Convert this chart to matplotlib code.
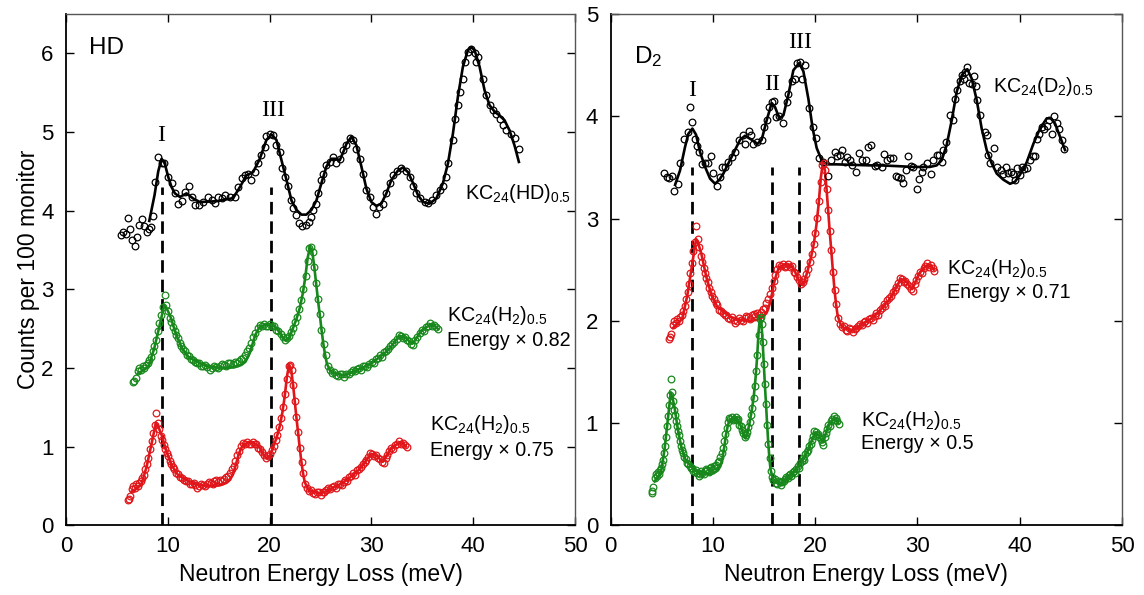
import matplotlib
matplotlib.use("Agg")
import matplotlib.pyplot as plt
import numpy as np

plt.rcParams['font.family'] = ['Liberation Sans', 'DejaVu Sans']
plt.rcParams['mathtext.fontset'] = 'custom'
plt.rcParams['mathtext.rm'] = 'Liberation Sans'
plt.rcParams['mathtext.it'] = 'Liberation Sans'

# KC24(HD)0.5 - fit line and data points
hd_fit_e = [8.18, 8.7, 9.06, 9.39, 9.7, 10.04, 10.37, 10.7, 11.19, 11.84, 12.49, 13.15, 14.78, 16.42,
            17.08, 17.73, 18.38, 19.04, 19.69, 20.18, 20.67, 21.17, 21.66, 22.15, 22.64, 23.13, 23.62,
            24.11, 24.6, 25.09, 25.58, 26.07, 26.56, 26.89, 27.38, 27.55, 28.04, 28.53, 29.02, 29.51,
            30.0, 30.49, 30.98, 31.47, 31.96, 32.61, 33.1, 33.59, 34.1, 34.57, 35.07, 35.72, 36.38,
            37.03, 37.52, 38.01, 38.5, 38.99, 39.48, 39.81, 40.14, 40.63, 41.12, 41.61, 42.1, 42.59,
            43.08, 43.57, 44.06, 44.49]
hd_fit_c = [3.87, 4.2, 4.5, 4.66, 4.6, 4.43, 4.3, 4.22, 4.175, 4.22, 4.155, 4.11, 4.12, 4.16,
            4.3, 4.45, 4.49, 4.66, 4.9, 4.97, 4.9, 4.64, 4.39, 4.13, 4.01, 3.95, 3.95,
            4.01, 4.13, 4.35, 4.56, 4.66, 4.66, 4.64, 4.79, 4.85, 4.94, 4.83, 4.56, 4.28,
            4.11, 4.06, 4.09, 4.22, 4.39, 4.51, 4.55, 4.49, 4.35, 4.2, 4.11, 4.09, 4.155,
            4.35, 4.6, 4.98, 5.45, 5.83, 6.04, 6.08, 6.04, 5.83, 5.53, 5.34, 5.26, 5.21,
            5.15, 5.02, 4.83, 4.62]
hd_pts_e = [5.37, 5.63, 5.89, 6.08, 6.28, 6.51, 6.77, 6.94, 7.2, 7.43, 7.69, 7.92, 8.15, 8.34, 8.57,
            8.73, 9.06, 9.39, 9.62, 10.04, 10.37, 10.7, 11.02, 11.35, 11.68, 12.1, 12.33, 12.66,
            13.08, 13.41, 13.97, 14.3, 14.6, 14.95, 15.28, 15.6, 16.09, 16.58, 16.91, 17.24, 17.57,
            17.89, 18.22, 18.55, 18.87, 19.2, 19.53, 19.69, 20.02, 20.35, 20.67, 21.0, 21.26, 21.49,
            21.82, 22.15, 22.31, 22.64, 22.9, 23.23, 23.55, 23.88, 24.1, 24.27, 24.53, 24.76, 25.09,
            25.25, 25.58, 25.9, 26.23, 26.56, 26.9, 27.21, 27.55, 27.87, 28.2, 28.53, 28.85, 29.18,
            29.51, 29.83, 30.16, 30.49, 30.75, 31.14, 31.47, 31.8, 32.12, 32.52, 32.94, 33.37, 33.76,
            34.1, 34.41, 34.74, 35.23, 35.56, 35.98, 36.38, 36.7, 37.03, 37.36, 37.52, 38.01, 38.17,
            38.5, 38.67, 38.99, 39.16, 39.48, 39.81, 40.14, 40.24, 40.46, 40.95, 41.28, 41.67, 41.93,
            42.25, 42.59, 42.92, 43.25, 43.74, 44.06, 44.49]
hd_pts_c = [3.69, 3.73, 3.71, 3.91, 3.77, 3.625, 3.55, 3.67, 3.815, 3.9, 3.8, 3.73, 3.77, 3.79, 3.93,
            4.37, 4.68, 4.6, 4.6, 4.43, 4.35, 4.22, 4.09, 4.125, 4.24, 4.31, 4.175, 4.07,
            4.07, 4.11, 4.175, 4.13, 4.1, 4.175, 4.16, 4.2, 4.175, 4.175, 4.3, 4.41, 4.45,
            4.47, 4.39, 4.49, 4.6, 4.705, 4.81, 4.95, 4.97, 4.96, 4.83, 4.75, 4.54, 4.43,
            4.32, 4.13, 4.03, 3.94, 3.84, 3.8, 3.815, 3.86, 3.92, 4.01, 4.09, 4.22, 4.39,
            4.47, 4.58, 4.62, 4.68, 4.6, 4.66, 4.77, 4.83, 4.92, 4.9, 4.79, 4.66, 4.47,
            4.26, 4.175, 4.05, 3.96, 4.05, 4.09, 4.22, 4.35, 4.45, 4.51, 4.54, 4.51, 4.43,
            4.32, 4.22, 4.155, 4.11, 4.1, 4.13, 4.2, 4.26, 4.32, 4.43, 4.6, 4.9, 5.17,
            5.34, 5.51, 5.68, 5.89, 6.02, 6.06, 6.0, 5.89, 5.96, 5.68, 5.47, 5.34, 5.28,
            5.235, 5.17, 5.09, 5.02, 4.98, 4.92, 4.78]

# KC24(D2)0.5 - fit line and data points
d2_fit_e = [6.31, 6.79, 7.28, 7.61, 8.0, 8.36, 8.75, 9.24, 9.73, 10.22, 10.64, 11.03, 11.52, 12.17,
            12.66, 13.15, 13.8, 14.36, 14.77, 15.26, 15.75, 16.08, 16.5, 16.9, 17.38, 17.87, 18.43,
            18.85, 19.34, 19.76, 20.15, 20.64, 21.13, 22.1, 23.73, 25.36, 26.34, 27.97, 29.6, 31.23,
            31.88, 32.37, 32.86, 33.35, 33.84, 34.33, 34.88, 35.3, 35.79, 36.28, 36.77, 37.26, 37.75,
            38.4, 39.05, 39.54, 40.03, 40.68, 41.33, 41.98, 42.64, 43.03, 43.45, 43.94, 44.43]
d2_fit_c = [3.33, 3.47, 3.7, 3.83, 3.88, 3.82, 3.65, 3.505, 3.39, 3.34, 3.38, 3.44, 3.54, 3.67,
            3.77, 3.81, 3.77, 3.73, 3.77, 3.96, 4.13, 4.09, 3.98, 4.01, 4.21, 4.45, 4.52,
            4.44, 4.17, 3.88, 3.69, 3.57, 3.53, 3.53, 3.525, 3.52, 3.52, 3.513, 3.505, 3.505,
            3.52, 3.57, 3.72, 3.96, 4.24, 4.4, 4.46, 4.37, 4.16, 3.88, 3.67, 3.54, 3.44,
            3.38, 3.34, 3.36, 3.43, 3.55, 3.73, 3.88, 3.98, 3.98, 3.93, 3.8, 3.67]
d2_pts_e = [5.26, 5.49, 5.75, 5.98, 6.21, 6.63, 6.79, 7.22, 7.54, 7.77, 8.0, 8.26, 8.49, 8.68, 8.91,
            9.24, 9.5, 9.79, 10.05, 10.44, 10.7, 10.86, 11.19, 11.52, 11.91, 12.17, 12.59, 12.92,
            13.18, 13.57, 13.73, 13.96, 14.29, 14.77, 15.0, 15.33, 15.52, 15.75, 15.98, 16.18, 16.5,
            16.83, 17.22, 17.38, 17.71, 18.04, 18.2, 18.52, 18.69, 19.01, 19.4, 19.76, 20.09, 20.41,
            20.8, 21.29, 21.55, 21.94, 22.17, 22.43, 22.66, 22.92, 23.15, 23.41, 23.57, 24.0, 24.32,
            24.55, 24.98, 25.2, 25.43, 25.86, 26.08, 26.5, 26.73, 27.06, 27.32, 27.65, 27.91, 28.14,
            28.37, 28.63, 28.89, 29.12, 29.34, 29.6, 29.95, 30.2, 30.42, 30.58, 30.97, 31.3, 31.56,
            31.88, 32.15, 32.37, 32.54, 32.8, 33.2, 33.45, 33.68, 33.9, 34.16, 34.33, 34.55, 34.65,
            34.88, 35.07, 35.3, 35.53, 35.73, 35.86, 36.12, 36.61, 36.84, 36.93, 37.1, 37.49, 37.82,
            38.14, 38.34, 38.67, 38.89, 39.12, 39.31, 39.54, 39.77, 40.03, 40.2, 40.42, 40.68, 41.01,
            41.27, 41.5, 41.66, 41.92, 42.15, 42.41, 42.64, 42.9, 43.13, 43.36, 43.62, 43.88, 44.11,
            44.33]
d2_pts_c = [3.45, 3.41, 3.4, 3.42, 3.27, 3.34, 3.54, 3.78, 3.85, 4.09, 3.94, 3.78, 3.71, 3.65, 3.53,
            3.54, 3.54, 3.61, 3.45, 3.32, 3.41, 3.505, 3.505, 3.555, 3.6, 3.65, 3.77, 3.82,
            3.73, 3.86, 3.82, 3.73, 3.75, 3.77, 3.9, 3.96, 4.09, 4.14, 4.15, 3.99, 4.0,
            3.93, 4.14, 4.22, 4.35, 4.36, 4.52, 4.53, 4.36, 4.5, 4.08, 3.9, 3.79, 3.59,
            3.555, 3.42, 3.57, 3.65, 3.61, 3.62, 3.67, 3.555, 3.6, 3.57, 3.52, 3.46, 3.64,
            3.57, 3.57, 3.7, 3.72, 3.51, 3.52, 3.505, 3.63, 3.57, 3.59, 3.59, 3.42, 3.41,
            3.4, 3.35, 3.47, 3.61, 3.51, 3.505, 3.29, 3.39, 3.46, 3.505, 3.54, 3.44, 3.57,
            3.62, 3.62, 3.555, 3.67, 3.75, 4.01, 3.96, 4.17, 4.26, 4.35, 4.4, 4.36, 4.43,
            4.48, 4.33, 4.32, 4.39, 4.3, 4.16, 4.01, 3.85, 3.82, 3.62, 3.54, 3.69, 3.505,
            3.47, 3.44, 3.505, 3.45, 3.46, 3.44, 3.38, 3.49, 3.43, 3.505, 3.48, 3.49, 3.57,
            3.61, 3.61, 3.78, 3.83, 3.9, 3.88, 3.91, 3.96, 3.83, 4.0, 3.93, 3.88, 3.77,
            3.68]

# KC24(H2)0.5 - measured energy (before scaling), lower copy
h2_fit_e = [8.6, 9.25, 9.9, 10.56, 11.21, 11.77, 12.1, 12.52, 13.17, 13.83, 14.67, 15.79, 16.7, 17.53,
            18.4, 19.28, 20.2, 21.03, 21.5, 21.89, 22.25, 22.55, 22.9, 23.2, 23.6, 24.08, 24.5, 24.95,
            25.4, 25.83, 26.1, 26.39, 26.7, 27.13, 27.6, 28.0, 28.35, 28.65, 28.95, 29.23, 29.5, 29.75,
            29.96, 30.2, 30.4, 30.62, 30.84, 31.05, 31.27, 31.7, 32.15, 33.24, 34.0, 34.53, 35.2, 35.87,
            36.7, 37.6, 38.3, 38.93, 39.5, 40.0, 40.5, 40.87, 41.2, 41.52, 42.0, 42.4, 43.0, 43.73,
            44.2, 44.53]
h2_fit_c = [0.43, 0.47, 0.53, 0.745, 1.04, 1.3, 1.25, 1.15, 0.935, 0.766, 0.64, 0.575, 0.53, 0.51,
            0.505, 0.5, 0.51, 0.54, 0.58, 0.66, 0.77, 0.88, 0.97, 1.02, 1.04, 1.05, 1.05, 1.03,
            0.98, 0.91, 0.87, 0.85, 0.88, 0.99, 1.12, 1.26, 1.44, 1.64, 1.9, 2.04, 1.98, 1.78,
            1.58, 1.35, 1.18, 0.98, 0.8, 0.66, 0.55, 0.46, 0.43, 0.41, 0.43, 0.46, 0.49, 0.52,
            0.57, 0.64, 0.7, 0.77, 0.85, 0.91, 0.89, 0.87, 0.83, 0.81, 0.88, 0.95, 1.01, 1.05,
            1.03, 1.0]
h2_pts_e = [8.07, 8.2, 8.33, 8.6, 8.8, 9.0, 9.2, 9.4, 9.6, 9.8, 10.0, 10.2, 10.4, 10.6, 10.8, 11.0,
            11.2, 11.4, 11.6, 11.8, 12.0, 12.2, 12.4, 12.6, 12.8, 13.0, 13.2, 13.4, 13.6, 13.8, 14.0,
            14.2, 14.45, 14.7, 14.95, 15.2, 15.45, 15.7, 15.95, 16.2, 16.45, 16.7, 16.95, 17.2, 17.45,
            17.7, 17.95, 18.2, 18.45, 18.7, 18.95, 19.2, 19.45, 19.7, 19.95, 20.2, 20.45, 20.7, 20.95,
            21.2, 21.45, 21.7, 21.95, 22.2, 22.45, 22.7, 22.95, 23.2, 23.45, 23.7, 23.95, 24.2, 24.45,
            24.7, 24.95, 25.2, 25.45, 25.7, 25.95, 26.2, 26.45, 26.7, 26.95, 27.2, 27.45, 27.7, 27.95,
            28.2, 28.45, 28.7, 28.95, 29.15, 29.35, 29.55, 29.75, 29.95, 30.15, 30.4, 30.6, 30.85,
            31.1, 31.35, 31.6, 31.85, 32.1, 32.35, 32.6, 32.85, 33.1, 33.35, 33.6, 33.85, 34.1, 34.35,
            34.6, 34.85, 35.1, 35.35, 35.6, 35.85, 36.1, 36.35, 36.6, 36.85, 37.1, 37.35, 37.6, 37.85,
            38.1, 38.35, 38.6, 38.85, 39.1, 39.35, 39.6, 39.85, 40.1, 40.35, 40.6, 40.85, 41.1, 41.35,
            41.6, 41.85, 42.1, 42.35, 42.6, 42.85, 43.1, 43.35, 43.6, 43.85, 44.1, 44.35, 44.6]
h2_pts_c = [0.32, 0.34, 0.37, 0.46, 0.5, 0.48, 0.52, 0.5, 0.54, 0.56, 0.6, 0.64, 0.71, 0.78, 0.86, 0.97,
            1.07, 1.18, 1.27, 1.43, 1.3, 1.22, 1.13, 1.08, 1.02, 0.97, 0.92, 0.88, 0.82, 0.78, 0.74,
            0.71, 0.67, 0.65, 0.61, 0.6, 0.58, 0.56, 0.56, 0.53, 0.52, 0.54, 0.51, 0.48, 0.5,
            0.53, 0.51, 0.5, 0.53, 0.55, 0.54, 0.52, 0.56, 0.57, 0.55, 0.58, 0.56, 0.59, 0.62,
            0.63, 0.67, 0.71, 0.76, 0.82, 0.89, 0.95, 1.01, 1.05, 1.04, 1.06, 1.03, 1.04, 1.06,
            1.03, 1.04, 0.98, 0.97, 0.93, 0.9, 0.86, 0.88, 0.91, 0.96, 1.01, 1.08, 1.15, 1.25,
            1.36, 1.51, 1.67, 1.86, 2.02, 2.04, 1.97, 1.79, 1.58, 1.38, 1.19, 0.98, 0.8,
            0.66, 0.53, 0.47, 0.44, 0.45, 0.41, 0.4, 0.43, 0.42, 0.39, 0.42, 0.43, 0.45, 0.47,
            0.46, 0.49, 0.5, 0.48, 0.52, 0.53, 0.51, 0.55, 0.58, 0.56, 0.61, 0.63, 0.66, 0.64,
            0.7, 0.72, 0.74, 0.78, 0.8, 0.83, 0.87, 0.92, 0.91, 0.88, 0.89, 0.86, 0.84, 0.81,
            0.79, 0.86, 0.9, 0.94, 0.98, 0.97, 1.02, 1.04, 1.07, 1.03, 1.05, 1.02, 0.99]

# scale factors and vertical offsets of the H2 copies
left_h2 = [(0.82, 1.5, '#18881c'), (0.75, 0.0, '#e0161a')]
right_h2 = [(0.71, 1.5, '#e0161a'), (0.5, 0.0, '#18881c')]

# peak markers
hd_peaks = [9.4, 20.1]
d2_peaks = [7.95, 15.75, 18.45]

fig = plt.figure(figsize=(11.44, 5.95), dpi=100)
ax1 = fig.add_axes([0.0577, 0.1171, 0.4449, 0.8593])
ax2 = fig.add_axes([0.5337, 0.1171, 0.4471, 0.8593])


def draw_set(ax, fit_e, fit_c, pts_e, pts_c, color, scale=1.0, offset=0.0):
    ax.plot(np.array(fit_e) * scale, np.array(fit_c) + offset, color=color, lw=1.9, zorder=3)
    ax.plot(np.array(pts_e) * scale, np.array(pts_c) + offset, 'o', mfc='none', mec=color,
            ms=4.8, mew=0.9, zorder=4)


draw_set(ax1, hd_fit_e, hd_fit_c, hd_pts_e, hd_pts_c, 'black')
for s, off, col in left_h2:
    draw_set(ax1, h2_fit_e, h2_fit_c, h2_pts_e, h2_pts_c, col, s, off)

draw_set(ax2, d2_fit_e, d2_fit_c, d2_pts_e, d2_pts_c, 'black')
for s, off, col in right_h2:
    draw_set(ax2, h2_fit_e, h2_fit_c, h2_pts_e, h2_pts_c, col, s, off)

for x in hd_peaks:
    ax1.plot([x, x], [0, 4.3], color='black', lw=2, dashes=(4.5, 2.5), zorder=2)
for x in d2_peaks:
    ax2.plot([x, x], [0, 3.5], color='black', lw=2, dashes=(4.5, 2.5), zorder=2)

# roman numerals
serif = ['Liberation Serif', 'DejaVu Serif']
ax1.text(9.3, 4.96, 'I', family=serif, fontsize=17, ha='center', va='center')
ax1.text(20.35, 5.28, 'III', family=serif, fontsize=17, ha='center', va='center')
ax2.text(8.0, 4.25, 'I', family=serif, fontsize=17, ha='center', va='center')
ax2.text(15.8, 4.31, 'II', family=serif, fontsize=17, ha='center', va='center')
ax2.text(18.5, 4.72, 'III', family=serif, fontsize=17, ha='center', va='center')

ax1.text(2.3, 6.07, 'HD', fontsize=17.5, ha='left', va='center')
ax2.text(2.3, 4.58, r'D$_2$', fontsize=17.5, ha='left', va='center')

lab = dict(fontsize=14.2, ha='left', va='center')
ax1.text(39.2, 4.22, r'KC$_{24}$(HD)$_{0.5}$', **lab)
ax1.text(37.4, 2.67, r'KC$_{24}$(H$_2$)$_{0.5}$', **lab)
ax1.text(37.4, 2.355, 'Energy × 0.82', **lab)
ax1.text(35.8, 1.28, r'KC$_{24}$(H$_2$)$_{0.5}$', **lab)
ax1.text(35.8, 0.957, 'Energy × 0.75', **lab)
ax2.text(37.4, 4.29, r'KC$_{24}$(D$_2$)$_{0.5}$', **lab)
ax2.text(32.9, 2.51, r'KC$_{24}$(H$_2$)$_{0.5}$', **lab)
ax2.text(32.9, 2.28, 'Energy × 0.71', **lab)
ax2.text(24.5, 1.03, r'KC$_{24}$(H$_2$)$_{0.5}$', **lab)
ax2.text(24.5, 0.80, 'Energy × 0.5', **lab)

for ax, ytop, yt in [(ax1, 6.5, range(0, 7)), (ax2, 5, range(0, 6))]:
    ax.set_xlim(0, 50)
    ax.set_ylim(0, ytop)
    ax.set_xticks(range(0, 51, 10))
    ax.set_yticks(list(yt))
    ax.tick_params(direction='in', length=6, width=1, top=True, right=True, labelsize=16)
    ax.tick_params(axis='x', pad=8)
    ax.tick_params(axis='y', pad=9)
    ax.set_xlabel('Neutron Energy Loss (meV)', fontsize=16.5, labelpad=4)
    for side in ['top', 'right']:
        ax.spines[side].set_color('#555555')
        ax.spines[side].set_linewidth(1.0)
    for side in ['left', 'bottom']:
        ax.spines[side].set_linewidth(1.3)

ax1.set_ylabel('Counts per 100 monitor', fontsize=16.5, labelpad=1)

fig.savefig('out.png', dpi=100)
